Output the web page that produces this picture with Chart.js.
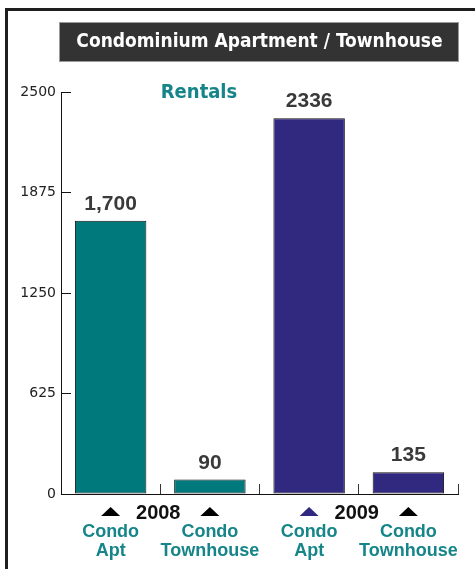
<!DOCTYPE html>
<html>
<head>
<meta charset="utf-8">
<script src="https://cdn.jsdelivr.net/npm/chart.js@4/dist/chart.umd.min.js"></script>
<style>
  html, body { margin: 0; padding: 0; background: #fff; }
  #wrap { width: 475px; height: 569px; position: relative; }
</style>
</head>
<body>
<div id="wrap"><canvas id="c" width="475" height="569"></canvas></div>
<script>
// ---- Data ----
const categories = [["Condo", "Apt"], ["Condo", "Townhouse"], ["Condo", "Apt"], ["Condo", "Townhouse"]];
const years = ["2008", "2009"];
const rentals = [1700, 90, 2336, 135];
const valueLabels = ["1,700", "90", "2336", "135"];
const yTicks = [0, 625, 1250, 1875, 2500];
const titleText = "Condominium Apartment / Townhouse";
const seriesName = "Rentals";

// ---- Styles ----
const TEAL = "#00797d";
const NAVY = "#30297f";
const TEXT_TEAL = "#168589";
const barColors = [TEAL, TEAL, NAVY, NAVY];
const markerColors = ["#000", "#000", NAVY, "#000"];
const NARROW = '"Liberation Sans Narrow", "DejaVu Sans Condensed", "Liberation Sans", sans-serif';

const decor = {
  id: "decor",
  beforeDraw(chart) {
    const ctx = chart.ctx;
    const ca = chart.chartArea;
    ctx.save();
    // outer frame
    ctx.fillStyle = "#1e1e1e";
    ctx.fillRect(5, 8, chart.width - 5, 3);
    ctx.fillRect(5, 8, 3, chart.height - 8);
    // title box
    ctx.fillStyle = "#333333";
    ctx.fillRect(ca.left - 1, 23, ca.right - ca.left + 1, 38);
    ctx.strokeStyle = "#9a9a9a";
    ctx.lineWidth = 1;
    ctx.strokeRect(ca.left - 1.5, 22.5, ca.right - ca.left + 2, 39);
    ctx.restore();
  },
  afterDraw(chart) {
    const ctx = chart.ctx;
    const ca = chart.chartArea;
    const xs = chart.scales.x;
    const meta = chart.getDatasetMeta(0);
    ctx.save();
    // series name
    ctx.fillStyle = TEXT_TEAL;
    ctx.font = 'bold 20px ' + NARROW;
    ctx.textAlign = "center";
    ctx.textBaseline = "alphabetic";
    ctx.fillText(seriesName, ca.left + 138, 98);
    // value labels
    ctx.fillStyle = "#3a3a3a";
    ctx.font = 'bold 21px "Liberation Sans", Arial, sans-serif';
    meta.data.forEach((bar, i) => {
      ctx.fillText(valueLabels[i], bar.x, bar.y - 11);
    });
    // markers under each category
    const by = ca.bottom + 22, h = 9, w = 19;
    categories.forEach((c, i) => {
      const px = xs.getPixelForTick(i);
      ctx.fillStyle = markerColors[i];
      ctx.beginPath();
      ctx.moveTo(px - w / 2, by);
      ctx.lineTo(px + w / 2, by);
      ctx.lineTo(px, by - h);
      ctx.closePath();
      ctx.fill();
    });
    // year labels between the two categories of each year
    ctx.fillStyle = "#111";
    ctx.font = 'bold 20px "Liberation Sans", Arial, sans-serif';
    years.forEach((y, k) => {
      const p = (xs.getPixelForTick(2 * k) + xs.getPixelForTick(2 * k + 1)) / 2;
      ctx.fillText(y, p - 2, ca.bottom + 25);
    });
    ctx.restore();
  }
};

new Chart(document.getElementById("c"), {
  type: "bar",
  data: {
    labels: categories,
    datasets: [{
      label: seriesName,
      data: rentals,
      backgroundColor: barColors,
      borderColor: "#111",
      borderWidth: 1,
      borderSkipped: false,
      barPercentage: 0.72,
      categoryPercentage: 1
    }]
  },
  options: {
    responsive: false,
    animation: false,
    devicePixelRatio: 1,
    layout: { padding: { top: 0, right: 17, bottom: 0, left: 0 } },
    plugins: {
      legend: { display: false },
      tooltip: { enabled: false },
      title: {
        display: true,
        text: titleText,
        fullSize: false,
        color: "#ffffff",
        font: { family: NARROW, size: 19, weight: "bold", lineHeight: 1.2 },
        padding: { top: 30.6, bottom: 38.6 }
      }
    },
    scales: {
      x: {
        type: "category",
        offset: true,
        grid: { offset: true, drawOnChartArea: false, drawTicks: true, tickLength: -10, color: "#333", lineWidth: 1 },
        border: { display: true, color: "#111", width: 1 },
        ticks: {
          color: TEXT_TEAL,
          padding: 38,
          maxRotation: 0,
          autoSkip: false,
          font: { family: '"Liberation Sans", Arial, sans-serif', size: 18, weight: "bold", lineHeight: 1.08 }
        },
        afterFit(scale) { scale.height = 75; scale.paddingLeft = 0; scale.paddingRight = 0; }
      },
      y: {
        min: 0,
        max: 2500,
        afterBuildTicks(scale) { scale.ticks = yTicks.map(v => ({ value: v })); },
        grid: { drawOnChartArea: false, drawTicks: true, tickLength: -10, color: "#111", lineWidth: 1 },
        border: { display: true, color: "#111", width: 1 },
        ticks: {
          color: "#222",
          padding: 15,
          font: { family: '"DejaVu Sans", sans-serif', size: 14 },
          callback: (v) => String(v)
        },
        afterFit(scale) { scale.width = 61; scale.paddingTop = 0; scale.paddingBottom = 0; }
      }
    }
  },
  plugins: [decor]
});
</script>
</body>
</html>
